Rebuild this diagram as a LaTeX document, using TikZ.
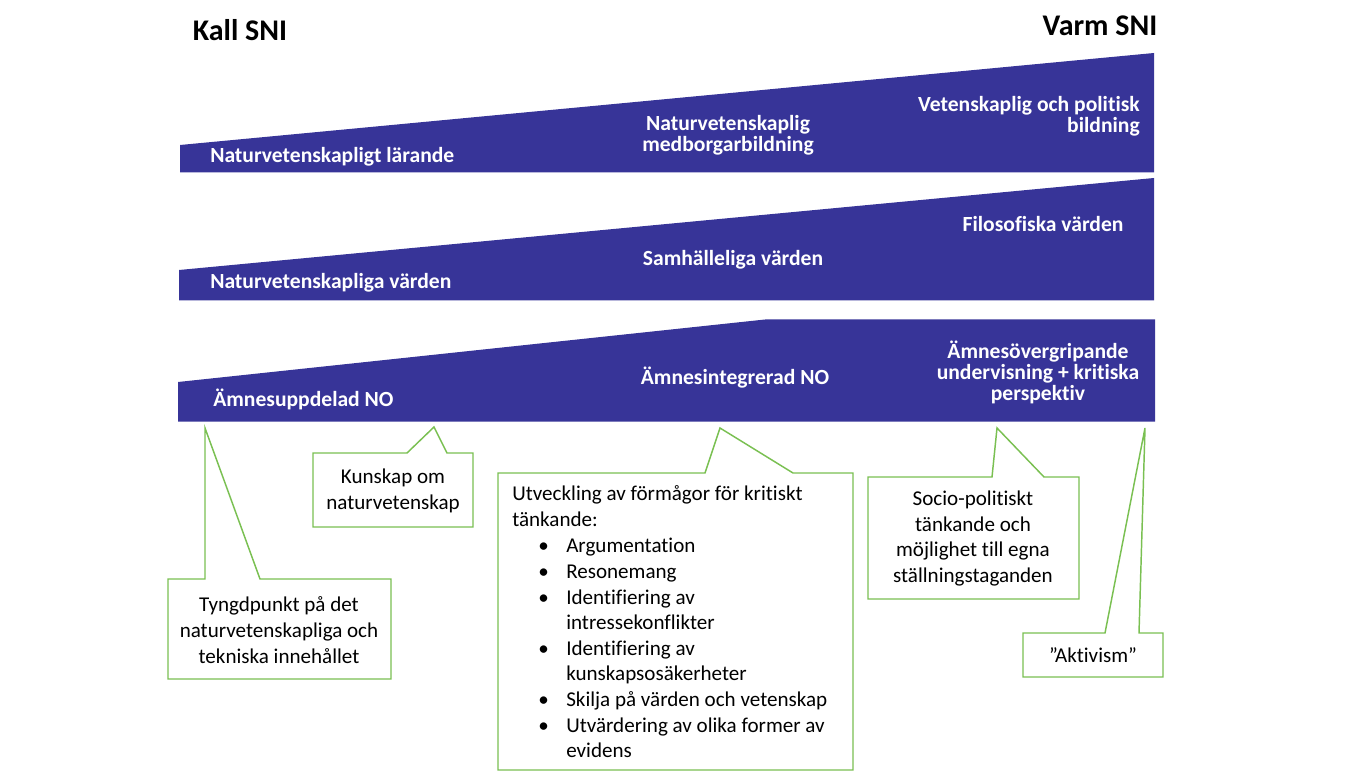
\documentclass[tikz,border=0pt]{standalone}
\usepackage{fontspec}
\setmainfont{Carlito}[Ligatures={CommonOff}]
\definecolor{wedgeblue}{RGB}{55,52,152}
\definecolor{callgreen}{RGB}{122,192,82}
\begin{document}
\begin{tikzpicture}[x=0.75pt,y=-0.75pt,
  wedge/.style={fill=wedgeblue,draw=none},
  wtext/.style={text=white,font=\bfseries\fontsize{16.2}{15.8}\selectfont,inner sep=0pt},
  title/.style={text=black,font=\bfseries\fontsize{22.5}{24}\selectfont,inner sep=0pt},
  callout/.style={draw=callgreen,fill=white,line width=1.1pt,line join=miter},
  ctext/.style={text=black,font=\fontsize{15.8}{19.4}\selectfont,inner sep=0pt,align=center},
  ltext/.style={text=black,font=\fontsize{15.8}{19.4}\selectfont,inner sep=0pt,anchor=base west}]
\useasboundingbox (0,0) rectangle (1370,773);
% titles
\node[title] (kall) at (240,30) {Kall SNI};
\node[title] (varm) at (1100,26) {Varm SNI};
% wedges
\path[wedge] (180,145) -- (1154,53) -- (1154,172.5) -- (180,172.5) -- cycle;
\path[wedge] (179,270) -- (1154,178) -- (1154,300.5) -- (179,300.5) -- cycle;
\path[wedge] (178,382) -- (765,319.5) -- (1155,319.5) -- (1155,421.5) -- (178,421.5) -- cycle;
% wedge texts
\node[wtext,anchor=west] (r1a) at (210,157) {Naturvetenskapligt lärande};
\node[wtext,align=center] (r1b) at (728,135.5) {Naturvetenskaplig\\medborgarbildning};
\node[wtext,align=right,anchor=east] (r1c) at (1140,116) {Vetenskaplig och politisk\\bildning};
\node[wtext,anchor=west] (r2a) at (210,283) {Naturvetenskapliga värden};
\node[wtext] (r2b) at (733,260) {Samhälleliga värden};
\node[wtext] (r2c) at (1043,224) {Filosofiska värden};
\node[wtext,anchor=west] (r3a) at (213,399) {Ämnesuppdelad NO};
\node[wtext] (r3b) at (735,378) {Ämnesintegrerad NO};
\node[wtext,align=center] (r3c) at (1038,372) {Ämnesövergripande\\undervisning + kritiska\\perspektiv};
% callout tips
\coordinate (t1) at (205,428);
\coordinate (t2) at (434,427);
\coordinate (t3) at (720,428);
\coordinate (t4) at (997,428);
\coordinate (t5) at (1145,428);
% callouts
\draw[callout] (168,579) -- (205,579) -- (t1) -- (260,579) -- (391,579) -- (391,679) -- (168,679) -- cycle;
\draw[callout] (313,453) -- (407,453) -- (t2) -- (447,453) -- (473,453) -- (473,527) -- (313,527) -- cycle;
\draw[callout] (498,473) -- (705,473) -- (t3) -- (793,473) -- (853,473) -- (853,770) -- (498,770) -- cycle;
\draw[callout] (868,477) -- (992,477) -- (t4) -- (1044,477) -- (1079,477) -- (1079,599) -- (868,599) -- cycle;
\draw[callout] (1023,633) -- (1105,633) -- (t5) -- (1139,633) -- (1163,633) -- (1163,677) -- (1023,677) -- cycle;
% callout texts
\node[ctext] (c1) at (279,630) {Tyngdpunkt på det\\naturvetenskapliga och\\tekniska innehållet};
\node[ctext] (c2) at (393,491) {Kunskap om\\naturvetenskap};
\node[ctext] (c4) at (973,538.5) {Socio-politiskt\\tänkande och\\möjlighet till egna\\ställningstaganden};
\node[ctext] (c5) at (1093,655) {”Aktivism”};
% big callout text
\node[ltext] (l1) at (512,500) {Utveckling av förmågor för kritiskt};
\node[ltext] (l2) at (512,526) {tänkande:};
\node[ltext] (b1) at (538,552) {•};
\node[ltext] (l3) at (566,552) {Argumentation};
\node[ltext] (b2) at (538,578) {•};
\node[ltext] (l4) at (566,578) {Resonemang};
\node[ltext] (b3) at (538,604) {•};
\node[ltext] (l5) at (566,604) {Identifiering av};
\node[ltext] (l6) at (566,629) {intressekonflikter};
\node[ltext] (b4) at (538,655) {•};
\node[ltext] (l7) at (566,655) {Identifiering av};
\node[ltext] (l8) at (566,680) {kunskapsosäkerheter};
\node[ltext] (b5) at (538,706) {•};
\node[ltext] (l9) at (566,706) {Skilja på värden och vetenskap};
\node[ltext] (b6) at (538,732) {•};
\node[ltext] (l10) at (566,732) {Utvärdering av olika former av};
\node[ltext] (l11) at (566,757) {evidens};
\end{tikzpicture}
\end{document}
